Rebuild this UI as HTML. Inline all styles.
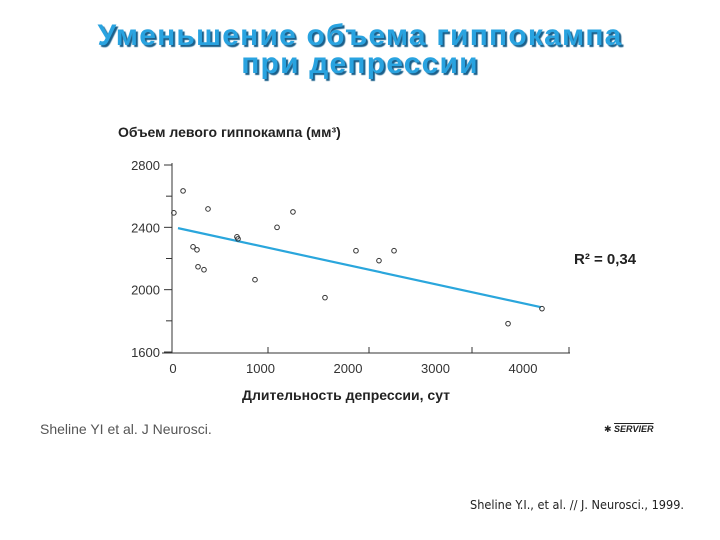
<!DOCTYPE html>
<html><head><meta charset="utf-8"><style>
body{margin:0;background:#fff;}
#wrap{position:relative;width:720px;height:540px;overflow:hidden;background:#fff;font-family:"Liberation Sans","DejaVu Sans",sans-serif;}
.title{position:absolute;left:0;width:720px;text-align:center;font-weight:bold;font-size:30px;color:#29a3e0;text-shadow:2px 2px 1px #1a5f8a;line-height:32px;letter-spacing:1.2px;}
.t{position:absolute;white-space:nowrap;}
</style></head><body>
<div id="wrap">
<div class="title" style="top:20px">Уменьшение объема гиппокампа</div>
<div class="title" style="top:48px">при депрессии</div>
<div class="t" style="left:118px;top:124px;font-size:14px;font-weight:bold;color:#222">Объем левого гиппокампа (мм³)</div>
<svg id="chart" width="720" height="540" style="position:absolute;left:0;top:0"></svg>
<div class="t" style="left:574px;top:251px;font-size:15px;font-weight:bold;color:#222">R² = 0,34</div>
<div class="t" style="left:242px;top:387px;font-size:14px;font-weight:bold;color:#222">Длительность депрессии, сут</div>
<div class="t" style="left:40px;top:421px;font-size:14px;color:#555">Sheline YI et al. J Neurosci.</div>
<div class="t" style="left:604px;top:424px;font-size:9px;font-style:italic;font-weight:bold;color:#222">✱ <span style="text-decoration:overline">SERVIER</span></div>
<div class="t" style="left:470px;top:497px;font-size:12.6px;color:#222;font-family:'DejaVu Sans Condensed','Liberation Sans Narrow',sans-serif">Sheline Y.I., et al. // J. Neurosci., 1999.</div>
</div>
<script>
const xTicks=[0,1000,2000,3000,4000];
const yTicks=[1600,2000,2400,2800];
const xVals=[10,115,400,1371,1189,731,743,229,274,286,354,937,1737,2091,2354,2526,3829,4217];
const yVals=[2493,2634,2518,2499,2400,2339,2326,2275,2256,2147,2128,2064,1949,2250,2186,2250,1782,1878];
const NS='http://www.w3.org/2000/svg';
const svg=document.getElementById('chart');
const X=v=>173+v*0.0875;
const Y=v=>352-(v-1600)*(187/1200);
function mk(t,a){const e=document.createElementNS(NS,t);for(const k in a)e.setAttribute(k,a[k]);svg.appendChild(e);return e;}
let ax=mk('line',{x1:172,y1:163,x2:172,y2:353,stroke:'#333','stroke-width':1});


let bx=mk('line',{x1:162,y1:353,x2:570,y2:353,stroke:'#333','stroke-width':1});


yTicks.forEach(v=>{
 const tk=mk('line',{x1:164,y1:Y(v),x2:172,y2:Y(v),stroke:'#333'});
 
 
 const t=mk('text',{x:160,y:Y(v)+5,'text-anchor':'end','font-size':13,fill:'#333','font-family':'Liberation Sans, sans-serif'});
 t.textContent=v;
 
 
});
for(let i=0;i<3;i++){const v=1800+i*400;const tk=mk('line',{x1:166,y1:Y(v),x2:172,y2:Y(v),stroke:'#333'});
 
 }
xTicks.forEach(v=>{
 const t=mk('text',{x:X(v),y:373,'text-anchor':'middle','font-size':13,fill:'#333','font-family':'Liberation Sans, sans-serif'});
 t.textContent=v;
 
 
});
[268,369,472,569].forEach(p=>{const tk=mk('line',{x1:p,y1:353,x2:p,y2:347,stroke:'#333'});
 
 });
// regression
const n=xVals.length;let mx=0,my=0;for(let i=0;i<n;i++){mx+=xVals[i];my+=yVals[i];}mx/=n;my/=n;
let sxy=0,sxx=0;for(let i=0;i<n;i++){sxy+=(xVals[i]-mx)*(yVals[i]-my);sxx+=(xVals[i]-mx)**2;}
const b=sxy/sxx,a=my-b*mx;const x0=57,x1=4206;
const rl=mk('line',{x1:X(x0),y1:Y(a+b*x0),x2:X(x1),y2:Y(a+b*x1),stroke:'#2aa6dc','stroke-width':2.2});


for(let i=0;i<n;i++){
 const c=mk('circle',{cx:X(xVals[i]),cy:Y(yVals[i]),r:2.3,fill:'none',stroke:'#333','stroke-width':1});
 
 
}
</script>
</body></html>
